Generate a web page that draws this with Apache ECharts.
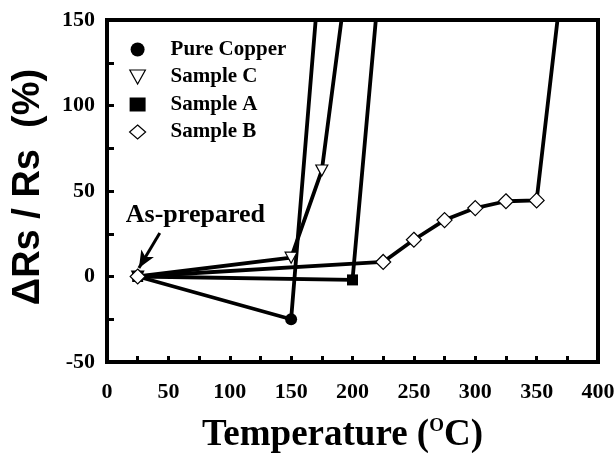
<!DOCTYPE html>
<html>
<head>
<meta charset="utf-8">
<script src="https://cdn.jsdelivr.net/npm/echarts@6/dist/echarts.min.js"></script>
<style>html,body{margin:0;padding:0;background:#fff}#c{width:616px;height:453px}</style>
</head>
<body>
<div id="c"></div>
<script>
// Data (x = temperature in °C, y = ΔRs/Rs in %)
var seriesNames = ['Pure Copper', 'Sample C', 'Sample A', 'Sample B'];
var pureCopper = [[25, 0], [150, -25], [170, 150]];
var sampleC = [[25, 0], [150, 11], [175, 62], [191, 150]];
var sampleA = [[25, 0], [200, -2], [219, 150]];
var sampleB = [[25, 0], [225, 8.5], [250, 21.5], [275, 33], [300, 40], [325, 44], [350, 44.5], [367, 150]];
var xTicks = [0, 50, 100, 150, 200, 250, 300, 350, 400];
var yTicks = [-50, 0, 50, 100, 150];
var annotationText = 'As-prepared';
var annotationPos = [72, 36];
var arrowFrom = [43, 25.5];
var arrowTo = [26, 5];

var SERIF = '"Liberation Serif","Times New Roman",serif';
var SANS = '"Liberation Sans",Arial,sans-serif';
var triDown = 'path://M0,0 L10,0 L5,9 Z';

function toData(arr) {
  return arr.map(function (p, i) {
    var d = { value: p };
    if (p[1] >= 150) { d.symbol = 'none'; }
    return d;
  });
}

var chart = echarts.init(document.getElementById('c'), null, { renderer: 'canvas' });
var option = {
  animation: false,
  backgroundColor: '#fff',
  grid: { left: 107, right: 18, top: 20, bottom: 91, outerBoundsMode: 'none', containLabel: false, show: true, borderColor: '#000', borderWidth: 4, backgroundColor: 'transparent' },
  legend: {
    orient: 'vertical', left: 124, top: 34, itemGap: 6.5, itemWidth: 16, itemHeight: 14,
    textStyle: { fontFamily: SERIF, fontWeight: 'bold', fontSize: 21, color: '#000', lineHeight: 20, padding: [0, 0, 0, 20] },
    data: [
      { name: 'Pure Copper', icon: 'circle', itemStyle: { color: '#000', borderColor: '#000', borderWidth: 0 } },
      { name: 'Sample C', icon: triDown, itemStyle: { color: '#fff', borderColor: '#000', borderWidth: 1.2 } },
      { name: 'Sample A', icon: 'rect', itemStyle: { color: '#000', borderColor: '#000', borderWidth: 0 } },
      { name: 'Sample B', icon: 'diamond', itemStyle: { color: '#fff', borderColor: '#000', borderWidth: 1.2 } }
    ]
  },
  xAxis: {
    type: 'value', min: 0, max: 400, interval: 25,
    name: 'Temperature ({sup|O}C)', nameLocation: 'middle', nameGap: 55,
    nameTextStyle: {
      fontFamily: SERIF, fontWeight: 'bold', fontSize: 37, color: '#000', padding: [0, 20, 0, 0],
      rich: { sup: { fontFamily: SERIF, fontWeight: 'bold', fontSize: 19, color: '#000', verticalAlign: 'top', padding: [0, 0, 16, 0] } }
    },
    axisLine: { show: false, onZero: false },
    axisTick: { show: true, inside: true, length: 6, lineStyle: { color: '#000', width: 3 } },
    axisLabel: {
      margin: 19, fontFamily: SERIF, fontWeight: 'bold', fontSize: 22, color: '#000',
      formatter: function (v) { return xTicks.indexOf(v) >= 0 ? String(v) : ''; }
    },
    splitLine: { show: false }
  },
  yAxis: {
    type: 'value', min: -50, max: 150, interval: 25,
    name: 'ΔRs / Rs  (%)', nameLocation: 'middle', nameGap: 59, nameRotate: 90,
    nameTextStyle: { fontFamily: SANS, fontWeight: 'bold', fontSize: 38, color: '#000', padding: [0, 0, 0, 8] },
    axisLine: { show: false, onZero: false },
    axisTick: { show: true, inside: true, length: 7, lineStyle: { color: '#000', width: 3 } },
    axisLabel: {
      margin: 12, fontFamily: SERIF, fontWeight: 'bold', fontSize: 22, color: '#000',
      formatter: function (v) { return yTicks.indexOf(v) >= 0 ? String(v) : ''; }
    },
    splitLine: { show: false }
  },
  series: [
    {
      name: seriesNames[0], type: 'line', data: toData(pureCopper), clip: true,
      symbol: 'circle', symbolSize: 12, showAllSymbol: true,
      lineStyle: { color: '#000', width: 3.8 },
      itemStyle: { color: '#000', borderColor: '#000', borderWidth: 0 }
    },
    {
      name: seriesNames[1], type: 'line', data: toData(sampleC), clip: true,
      symbol: triDown, symbolSize: [12, 11], showAllSymbol: true,
      lineStyle: { color: '#000', width: 3.8 },
      itemStyle: { color: '#fff', borderColor: '#000', borderWidth: 1.2 }
    },
    {
      name: seriesNames[2], type: 'line', data: toData(sampleA), clip: true,
      symbol: 'rect', symbolSize: 11, showAllSymbol: true,
      lineStyle: { color: '#000', width: 3.8 },
      itemStyle: { color: '#000', borderColor: '#000', borderWidth: 0 }
    },
    {
      name: seriesNames[3], type: 'line', data: toData(sampleB), clip: true,
      symbol: 'diamond', symbolSize: 15, showAllSymbol: true,
      lineStyle: { color: '#000', width: 3.8 },
      itemStyle: { color: '#fff', borderColor: '#000', borderWidth: 1.2 },
      markLine: {
        silent: true, symbol: ['none', 'arrow'], symbolSize: [11, 17],
        lineStyle: { color: '#000', width: 3, type: 'solid' },
        label: { show: false },
        data: [[{ coord: arrowFrom }, { coord: arrowTo }]]
      },
      markPoint: {
        silent: true, symbol: 'circle', symbolSize: 0,
        label: { show: true, position: 'inside', formatter: annotationText, fontFamily: SERIF, fontWeight: 'bold', fontSize: 26, color: '#000' },
        data: [{ coord: annotationPos }]
      }
    }
  ]
};
chart.setOption(option);
</script>
</body>
</html>
